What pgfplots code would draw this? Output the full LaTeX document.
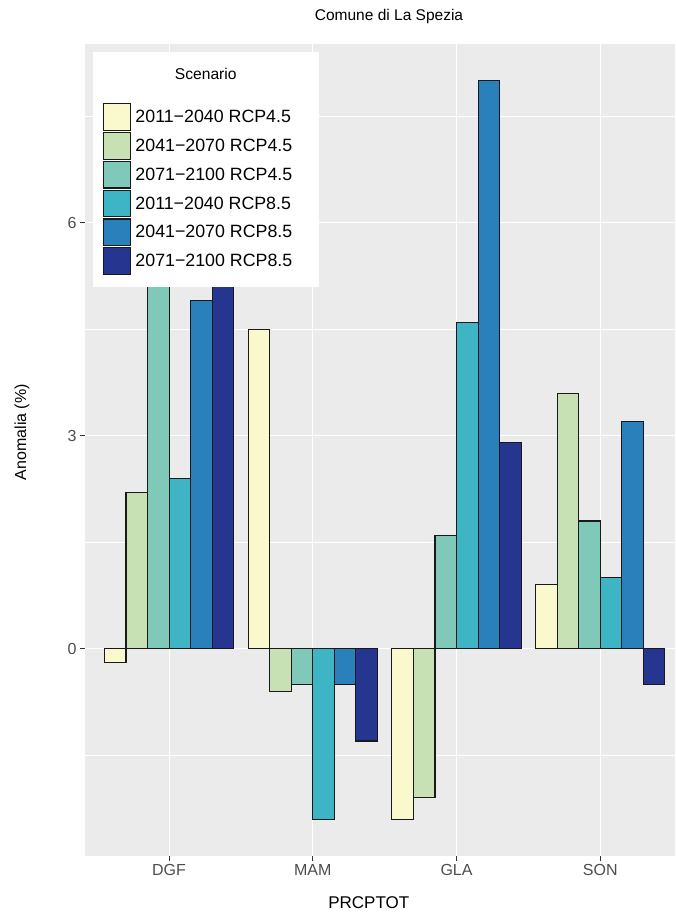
\documentclass[border=0pt]{standalone}
\usepackage{fontspec}
\setmainfont{Liberation Sans}
\usepackage{pgfplots}
\usepackage{pgfplotstable}
\pgfplotsset{compat=1.18}
\definecolor{c1}{HTML}{FAF8CD}
\definecolor{c2}{HTML}{C8E1B4}
\definecolor{c3}{HTML}{80C8B8}
\definecolor{c4}{HTML}{3DB5C5}
\definecolor{c5}{HTML}{2980BA}
\definecolor{c6}{HTML}{253590}
\definecolor{panel}{HTML}{EBEBEB}
\definecolor{tickc}{HTML}{333333}
\definecolor{labc}{HTML}{4D4D4D}
\pgfplotstableread{
x s1 s2 s3 s4 s5 s6
1 -0.2 2.2 5.6 2.4 4.9 5.3
2 4.5 -0.6 -0.5 -2.4 -0.5 -1.3
3 -2.4 -2.1 1.6 4.6 8.0 2.9
4 0.9 3.6 1.8 1.0 3.2 -0.5
}\datatable
\pgfplotsset{
  mybar/.style={ybar, bar width=0.15, draw=black!90, line width=1.1pt, fill=#1,
    legend image code/.code={\draw[##1] (0pt,-13.4pt) rectangle (27pt,13.4pt);}},
}
\begin{document}
\begin{tikzpicture}[x=1pt,y=1pt]
\path[use as bounding box] (0,0) rectangle (675,912);
\begin{axis}[
  at={(85pt,56pt)}, anchor=south west,
  scale only axis, width=590pt, height=812pt,
  xmin=0.415, xmax=4.52, ymin=-2.92, ymax=8.52,
  axis background/.style={fill=panel},
  axis line style={draw=none},
  xtick={1,2,3,4}, xticklabels={DGF,MAM,GLA,SON},
  ytick={0,3,6}, minor ytick={-1.5,1.5,4.5,7.5},
  xmajorgrids, ymajorgrids, yminorgrids,
  major grid style={white, line width=1.1pt},
  minor grid style={white, line width=0.55pt},
  tick align=outside, tick pos=left,
  major tick length=5pt, minor tick length=0pt,
  every tick/.style={tickc, line width=0.9pt},
  /pgf/number format/assume math mode=true,
  xticklabel style={font=\fontsize{16}{19}\selectfont, text=labc},
  yticklabel style={font=\fontsize{16}{19}\selectfont, text=labc},
  ylabel={Anomalia (\%)},
  ylabel style={at={(axis description cs:-0.1068,0.522)}, anchor=center, font=\fontsize{16}{19}\selectfont},
  xlabel={PRCPTOT},
  xlabel style={at={(axis description cs:0.481,-0.0579)}, anchor=center, font=\fontsize{17}{20}\selectfont},
  legend cell align=left,
  legend style={at={(axis description cs:0.013,0.9277)}, anchor=north west,
    draw=none, fill=none, inner xsep=10pt, inner ysep=0pt, row sep=1.0pt,
    font=\fontsize{17.8}{21}\selectfont, nodes={inner sep=0pt},
    /tikz/every odd column/.append style={column sep=4.5pt}},
]
\addplot[mybar=c1, bar shift=-0.375] table[x=x, y=s1] {\datatable};
\addlegendentry{2011−2040 RCP4.5}
\addplot[mybar=c2, bar shift=-0.225] table[x=x, y=s2] {\datatable};
\addlegendentry{2041−2070 RCP4.5}
\addplot[mybar=c3, bar shift=-0.075] table[x=x, y=s3] {\datatable};
\addlegendentry{2071−2100 RCP4.5}
\addplot[mybar=c4, bar shift=0.075] table[x=x, y=s4] {\datatable};
\addlegendentry{2011−2040 RCP8.5}
\addplot[mybar=c5, bar shift=0.225] table[x=x, y=s5] {\datatable};
\addlegendentry{2041−2070 RCP8.5}
\addplot[mybar=c6, bar shift=0.375] table[x=x, y=s6] {\datatable};
\addlegendentry{2071−2100 RCP8.5}
\node[fill=white, anchor=north west, minimum width=226.6pt, minimum height=235pt, inner sep=0pt]
  at (axis description cs:0.013,0.9905) {};
\node[font=\fontsize{15.6}{18}\selectfont] at (axis description cs:0.2047,0.9631) {Scenario};
\end{axis}
\node at (389,895) {\fontsize{15.5}{18}\selectfont Comune di La Spezia};
\end{tikzpicture}
\end{document}
